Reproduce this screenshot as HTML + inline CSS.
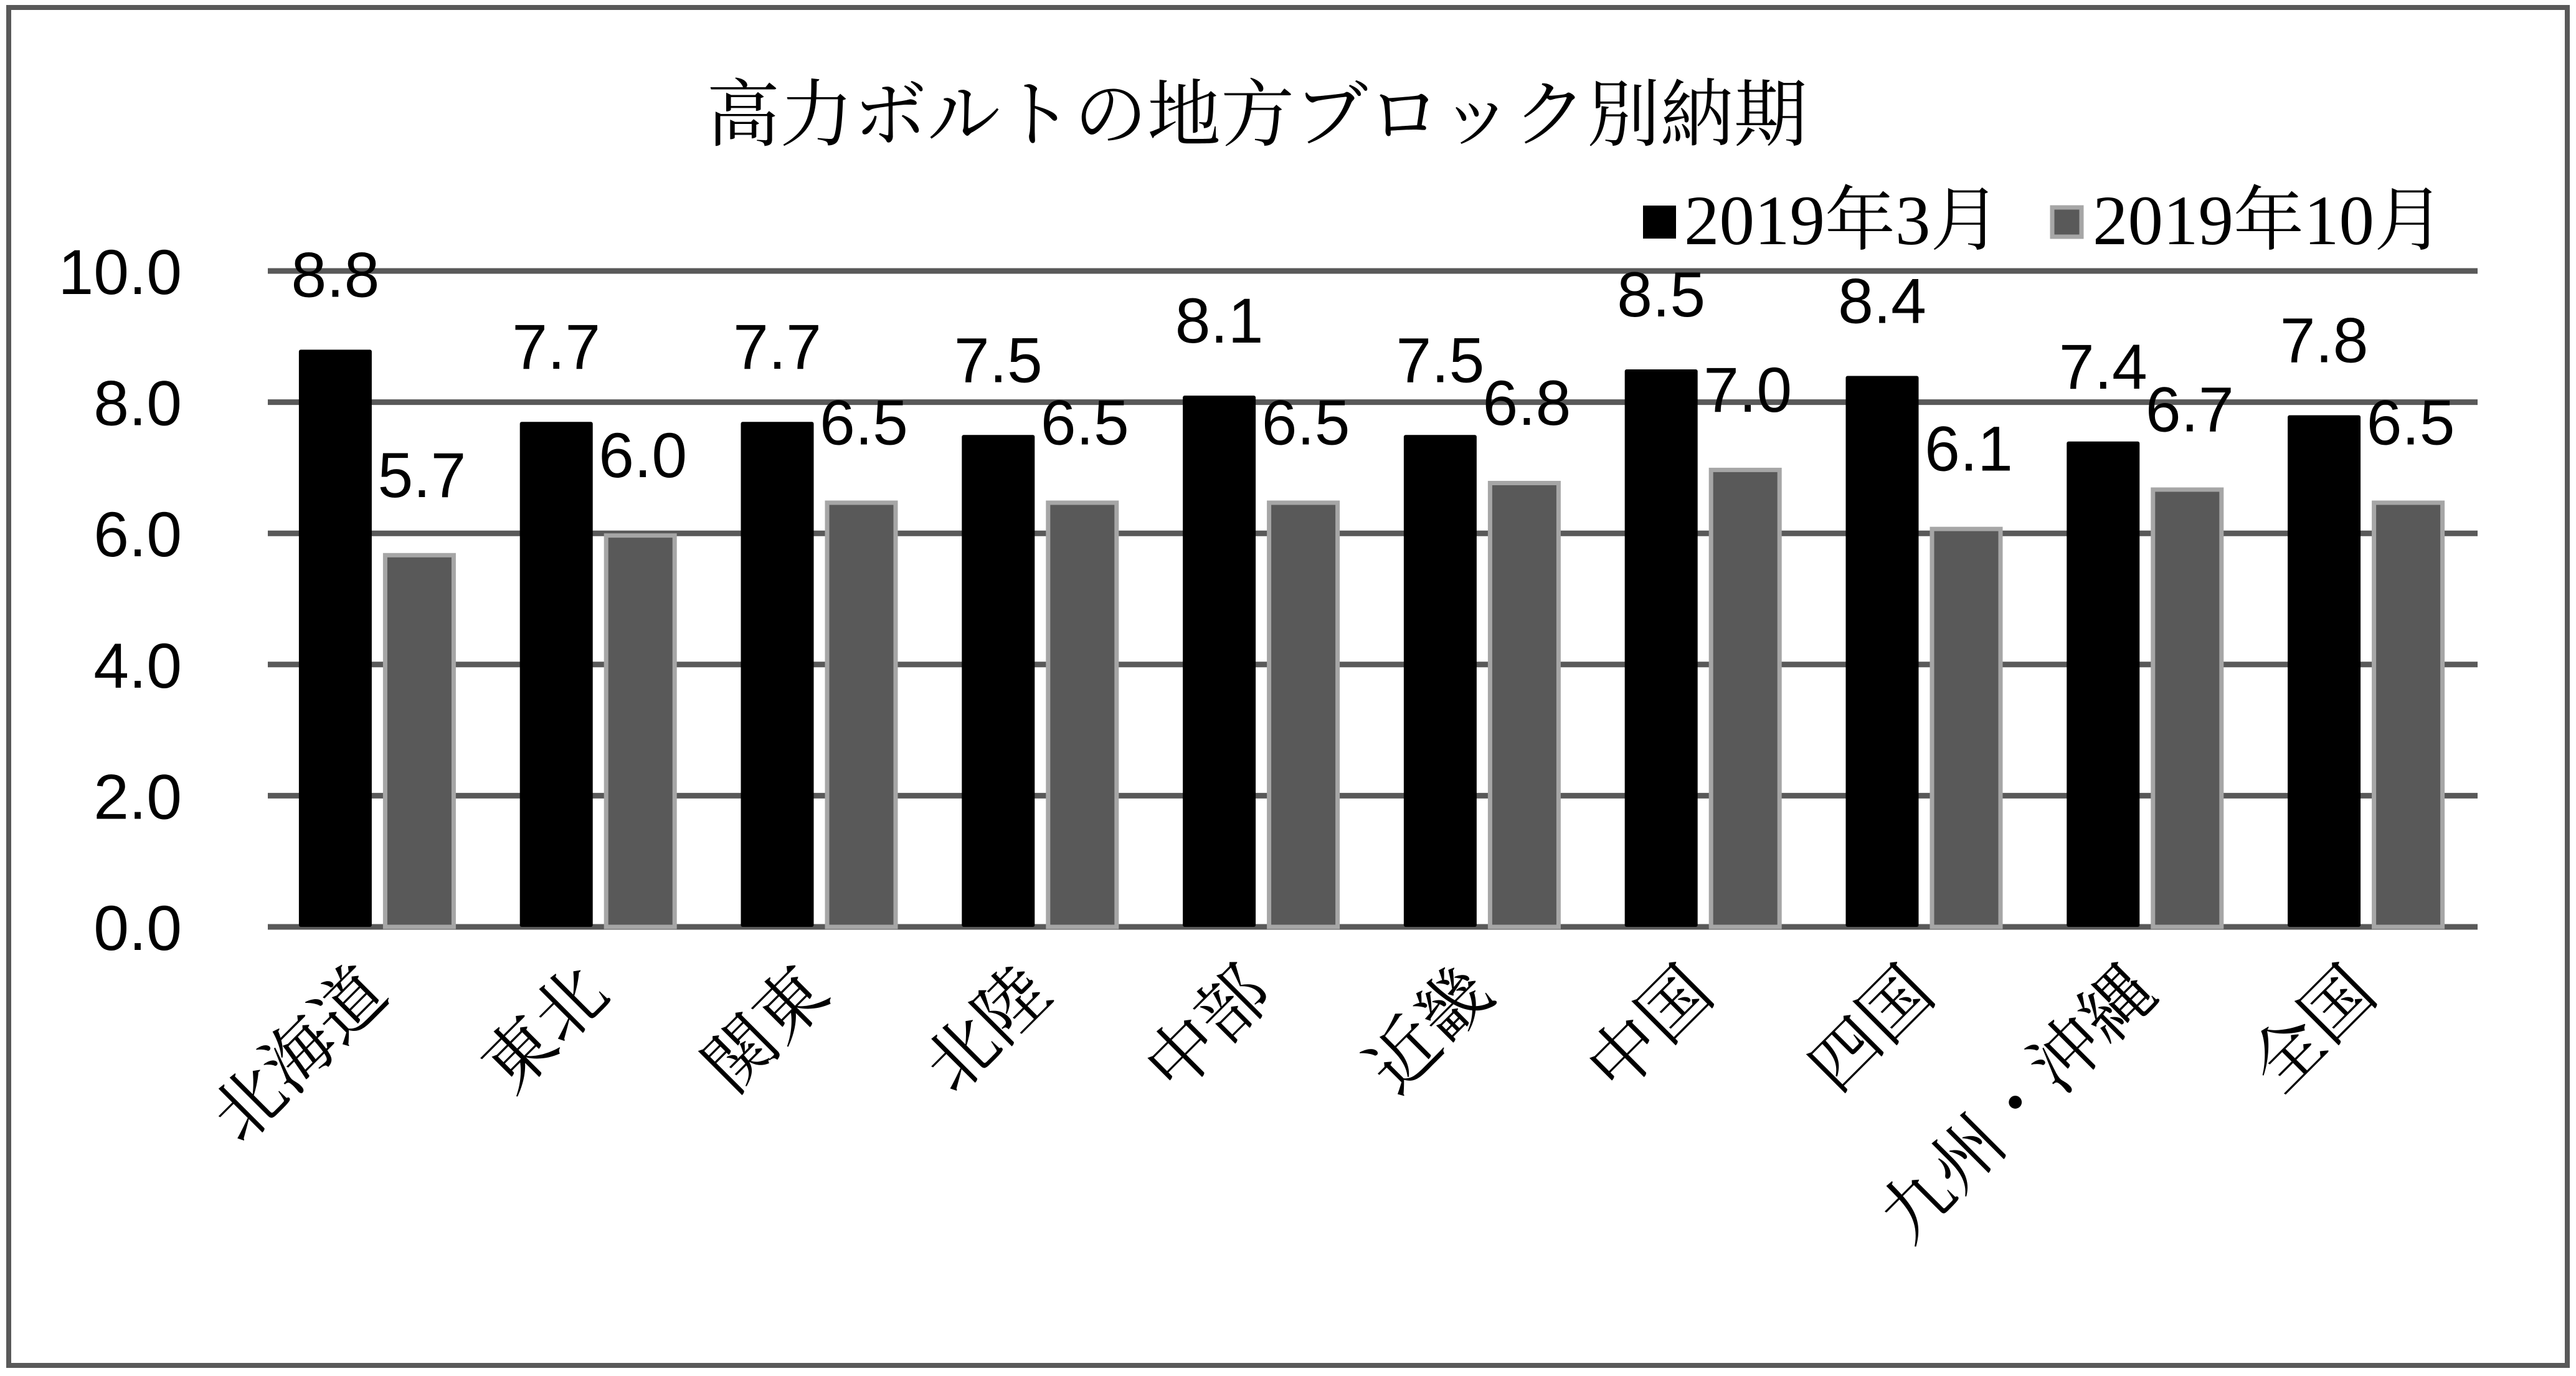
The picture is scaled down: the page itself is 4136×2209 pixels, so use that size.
<!DOCTYPE html>
<html><head><meta charset="utf-8"><style>
html,body{margin:0;padding:0;background:#fff;}
svg{display:block;}
</style></head><body>
<svg id="chart" width="4136" height="2209" viewBox="0 0 4136 2209" xmlns="http://www.w3.org/2000/svg">
<rect x="14" y="12" width="4108" height="2180" fill="#fff" stroke="#595959" stroke-width="8"/>
<text x="2018" y="225" text-anchor="middle" font-family="'Liberation Serif','Noto Serif CJK SC',serif" font-size="118" fill="#000">高力ボルトの地方ブロック別納期</text>
<g>
<g>
<rect x="2638" y="330" width="53" height="53" fill="#000"/>
<text x="2704" y="392" font-family="'Liberation Serif','Noto Serif CJK JP',serif" font-size="113" fill="#000">2019年3月</text>
</g>
<g>
<rect x="3295" y="333" width="47" height="47" fill="#595959" stroke="#a6a6a6" stroke-width="7"/>
<text x="3360" y="392" font-family="'Liberation Serif','Noto Serif CJK JP',serif" font-size="113" fill="#000">2019年10月</text>
</g>
</g>
<g id="grid"></g>
<g id="yaxis"></g>
<g id="bars"></g>
<g id="labels"></g>
<g id="xaxis"></g>
</svg>
<script>
const categories = ["北海道","東北","関東","北陸","中部","近畿","中国","四国","九州・沖縄","全国"];
const series2019Mar = [8.8,7.7,7.7,7.5,8.1,7.5,8.5,8.4,7.4,7.8];
const series2019Oct = [5.7,6.0,6.5,6.5,6.5,6.8,7.0,6.1,6.7,6.5];
const yTicks = [0,2,4,6,8,10];
const yTickLabels = ["0.0","2.0","4.0","6.0","8.0","10.0"];

const NS = "http://www.w3.org/2000/svg";
const plotL = 430, plotR = 3978, y0 = 1488, y10 = 435;
const yMax = 10;
const catW = (plotR - plotL) / categories.length;
function yScale(v){ return y0 - (y0 - y10) * v / yMax; }
function xCenter(i){ return plotL + catW * (i + 0.5); }
function mk(tag, attrs, parent){
  const e = document.createElementNS(NS, tag);
  for (const k in attrs) e.setAttribute(k, attrs[k]);
  parent.appendChild(e);
  return e;
}
const grid = document.getElementById("grid");
const yaxis = document.getElementById("yaxis");
const bars = document.getElementById("bars");
const labels = document.getElementById("labels");
const xaxis = document.getElementById("xaxis");
const numFont = "'Liberation Sans',sans-serif";
const cjkFont = "'Liberation Serif','Noto Serif CJK JP',serif";

yTicks.forEach((t, i) => {
  const y = yScale(t);
  const gl = mk("line", {x1: plotL, x2: plotR, y1: y, y2: y, stroke: "#595959", "stroke-width": 9}, grid);
  
  
  const tl = mk("text", {x: 292, y: y + 37, "text-anchor": "end", "font-family": numFont, "font-size": 102, fill: "#000"}, yaxis);
  tl.textContent = yTickLabels[i];
  
  
});

const barW = 117;
categories.forEach((c, i) => {
  const cx = xCenter(i);
  const v1 = series2019Mar[i], v2 = series2019Oct[i];
  const bx1 = cx - 69 - barW / 2;
  const b1 = mk("rect", {x: bx1, y: yScale(v1), width: barW, height: y0 - yScale(v1), fill: "#000", rx: 3}, bars);
  
  
  const bx2 = cx + 66 - barW / 2;
  const b2 = mk("rect", {x: bx2 + 3.5, y: yScale(v2) + 3.5, width: barW - 7, height: y0 - yScale(v2) - 3.5, fill: "#595959", stroke: "#a6a6a6", "stroke-width": 7}, bars);
  
  

  const l1 = mk("text", {x: cx - 69, y: yScale(v1) - 85, "text-anchor": "middle", "font-family": numFont, "font-size": 102, fill: "#000"}, labels);
  l1.textContent = v1.toFixed(1);
  
  
  const l2 = mk("text", {x: cx + 70, y: yScale(v2) - 90, "text-anchor": "middle", "font-family": numFont, "font-size": 102, fill: "#000"}, labels);
  l2.textContent = v2.toFixed(1);
  
  

  const ax = cx + 20, ay = 1600;
  const xl = mk("text", {x: ax, y: ay, "text-anchor": "end", "font-family": cjkFont, "font-size": 113, fill: "#000", transform: "rotate(-45 " + ax + " " + ay + ")"}, xaxis);
  xl.textContent = c;
  
  
});
</script>
</body></html>
